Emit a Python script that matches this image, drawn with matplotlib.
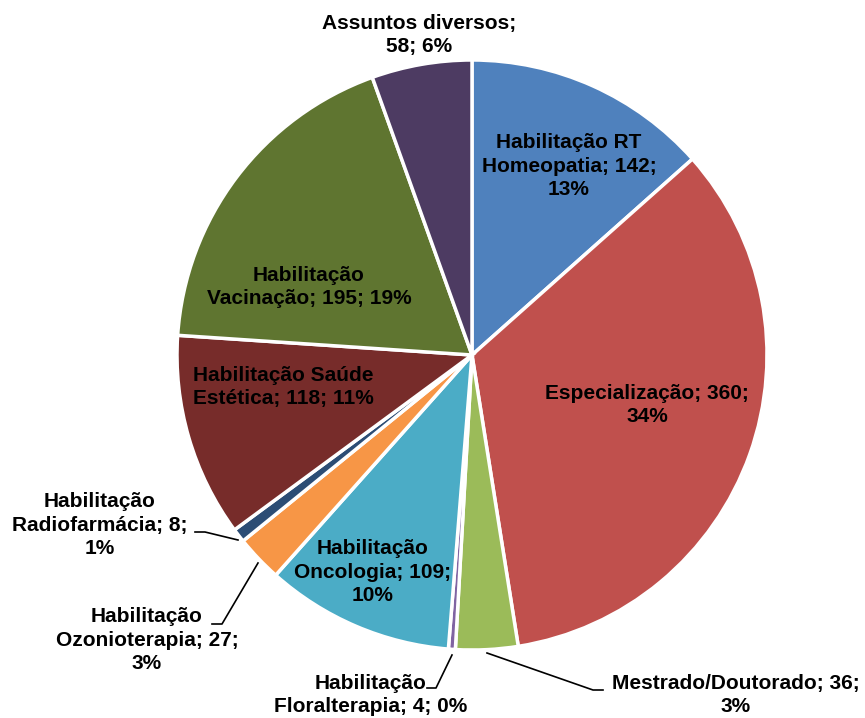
import matplotlib.pyplot as plt

plt.rcParams['font.family'] = ['Liberation Sans', 'DejaVu Sans']

# dados
categorias = ['Habilitação RT Homeopatia', 'Especialização', 'Mestrado/Doutorado',
              'Habilitação Floralterapia', 'Habilitação Oncologia', 'Habilitação Ozonioterapia',
              'Habilitação Radiofarmácia', 'Habilitação Saúde Estética', 'Habilitação Vacinação',
              'Assuntos diversos']
valores = [142, 360, 36, 4, 109, 27, 8, 118, 195, 58]
rotulos = ['Habilitação RT\nHomeopatia; 142;\n13%',
           'Especialização; 360;\n34%',
           'Mestrado/Doutorado; 36;\n3%',
           'Habilitação\nFloralterapia; 4; 0%',
           'Habilitação\nOncologia; 109;\n10%',
           'Habilitação\nOzonioterapia; 27;\n3%',
           'Habilitação\nRadiofarmácia; 8;\n1%',
           'Habilitação Saúde\nEstética; 118; 11%',
           'Habilitação\nVacinação; 195; 19%',
           'Assuntos diversos;\n58; 6%']
cores = ['#4F81BD', '#C0504D', '#9BBB59', '#8064A2', '#4BACC6', '#F79646',
         '#2C4D75', '#772C2A', '#5F7530', '#4D3B62']

# posições dos rótulos (pixels, origem embaixo à esquerda)
pos_rotulos = [(569, 552), (647, 313), (736, 23), (371, 23), (373, 146),
               (147, 78), (100, 193), (283, 331), (309, 431), (419, 683)]

fig = plt.figure(figsize=(8.65, 7.18), dpi=100)
ax = fig.add_axes([0, 0, 1, 1])

ax.pie(valores, colors=cores, startangle=90, counterclock=False,
       center=(472, 363), radius=295,
       wedgeprops=dict(edgecolor='white', linewidth=2.5))
ax.set_xlim(0, 865)
ax.set_ylim(0, 718)
ax.set_aspect('equal')
ax.axis('off')

for txt, (x, y) in zip(rotulos, pos_rotulos):
    ax.text(x, y, txt, ha='center', va='center', fontsize=15,
            fontweight='bold', color='black', linespacing=1.3)

# linhas de chamada
linhas = [
    [(195, 186), (205, 186), (238, 178)],
    [(212, 94), (222, 94), (258, 155)],
    [(427, 30), (436, 30), (452, 63)],
    [(603, 28), (593, 28), (487, 65)],
]
for ln in linhas:
    xs, ys = zip(*ln)
    ax.plot(xs, ys, color='black', linewidth=1.2)

plt.savefig('out.png', dpi=100)
